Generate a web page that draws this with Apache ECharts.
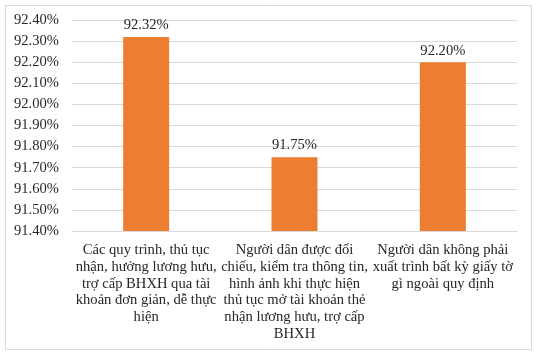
<!DOCTYPE html>
<html><head><meta charset="utf-8">
<script src="https://cdn.jsdelivr.net/npm/echarts@6/dist/echarts.min.js"></script>
<style>html,body{margin:0;padding:0;background:#fff}#c{width:537px;height:355px}</style>
</head><body><div id="c"></div>
<script>
const categories = [
  "Các quy trình, thủ tục\nnhận, hưởng lương hưu,\ntrợ cấp BHXH qua tài\nkhoản đơn giản, dễ thực\nhiện",
  "Người dân được đối\nchiếu, kiểm tra thông tin,\nhình ảnh khi thực hiện\nthủ tục mở tài khoản thẻ\nnhận lương hưu, trợ cấp\nBHXH",
  "Người dân không phải\nxuất trình bất kỳ giấy tờ\ngì ngoài quy định"
];
const values = [92.32, 91.75, 92.20];
const yMin = 91.4, yMax = 92.4, yStep = 0.1;

const font = '"Liberation Serif", "Times New Roman", serif';
const chart = echarts.init(document.getElementById('c'), null, {renderer: 'canvas'});
chart.setOption({
  animation: false,
  graphic: [{type: 'rect', shape: {x: 5.5, y: 5.5, width: 526, height: 344}, style: {fill: 'none', stroke: '#d9d9d9', lineWidth: 1}}],
  grid: {left: 72, right: 20, top: 20, bottom: 124},
  xAxis: {
    type: 'category', data: categories,
    axisLine: {lineStyle: {color: '#d9d9d9'}}, axisTick: {show: false},
    axisLabel: {interval: 0, margin: 11, color: '#262626', fontFamily: font, fontSize: 14.6, lineHeight: 16.7, align: 'center'}
  },
  yAxis: {
    type: 'value', min: yMin, max: yMax, interval: yStep,
    axisLine: {show: false}, axisTick: {show: false},
    splitLine: {lineStyle: {color: '#d9d9d9'}},
    axisLabel: {margin: 13, color: '#262626', fontFamily: font, fontSize: 14.6, formatter: v => v.toFixed(2) + '%'}
  },
  series: [{
    type: 'bar', data: values, barWidth: 46, itemStyle: {color: '#ED7D31'},
    label: {show: true, position: 'top', distance: 4, color: '#262626', fontFamily: font, fontSize: 14.6, formatter: p => p.value.toFixed(2) + '%'}
  }]
});
</script></body></html>
